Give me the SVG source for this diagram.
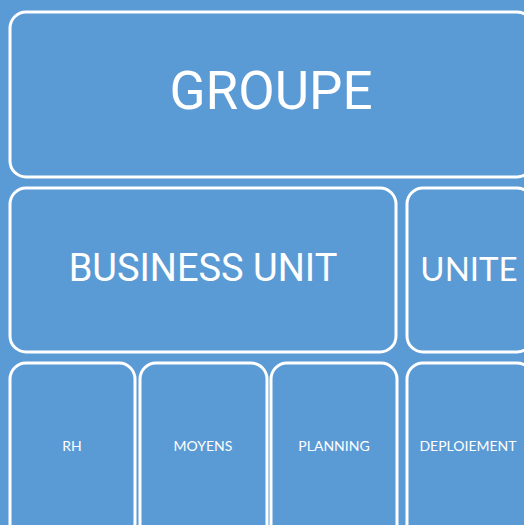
<svg xmlns="http://www.w3.org/2000/svg" width="524" height="525" viewBox="0 0 524 525">
<style>
.box{fill:#5b9bd5;stroke:#fff;stroke-width:3}
.t{fill:#fff;text-anchor:middle}
.r{font-family:Roboto,"Liberation Sans",sans-serif}
.l{font-family:Lato,"Open Sans",sans-serif}
.s{font-size:14px}
</style>
<rect width="524" height="525" fill="#5b9bd5"/>
<g id="groupe"><rect class="box" x="10" y="12" width="523" height="165" rx="16"/><text class="t r" x="271" y="109" font-size="53">GROUPE</text></g>
<g id="business-unit"><rect class="box" x="10" y="188" width="386" height="164" rx="16"/><text class="t r" x="203" y="281" font-size="38">BUSINESS UNIT</text></g>
<g id="unite"><rect class="box" x="407" y="188" width="126" height="164" rx="16"/><text class="t l" x="469" y="281" font-size="33">UNITE</text></g>
<g id="rh"><rect class="box" x="10" y="363" width="125" height="180" rx="16"/><text class="t l s" x="72" y="451">RH</text></g>
<g id="moyens"><rect class="box" x="140" y="363" width="127" height="180" rx="16"/><text class="t l s" x="203" y="451">MOYENS</text></g>
<g id="planning"><rect class="box" x="271" y="363" width="126" height="180" rx="16"/><text class="t l s" x="334" y="451">PLANNING</text></g>
<g id="deploiement"><rect class="box" x="407" y="363" width="126" height="180" rx="16"/><text class="t l s" x="468" y="451">DEPLOIEMENT</text></g>
<g id="connectors"/>
</svg>
